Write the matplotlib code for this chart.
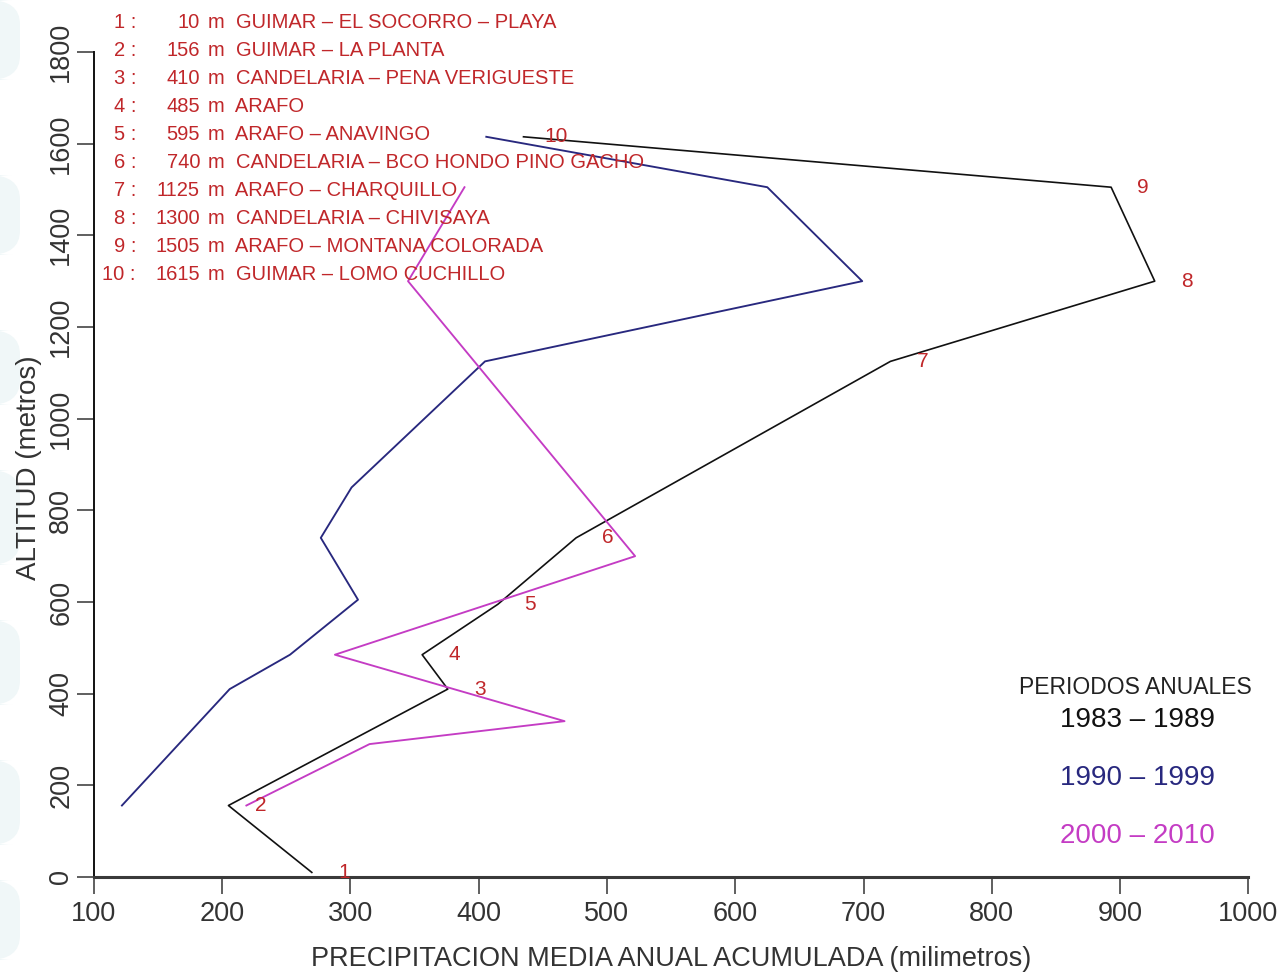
import matplotlib
matplotlib.use("Agg")
import matplotlib.pyplot as plt
from matplotlib.patches import FancyBboxPatch

plt.rcParams['font.family'] = ['Liberation Sans', 'DejaVu Sans']

# Stations (altitude in metres, name)
station_num = [1, 2, 3, 4, 5, 6, 7, 8, 9, 10]
station_alt = [10, 156, 410, 485, 595, 740, 1125, 1300, 1505, 1615]
station_name = [
    "GUIMAR – EL SOCORRO – PLAYA",
    "GUIMAR – LA PLANTA",
    "CANDELARIA – PENA VERIGUESTE",
    "ARAFO",
    "ARAFO – ANAVINGO",
    "CANDELARIA – BCO HONDO PINO GACHO",
    "ARAFO – CHARQUILLO",
    "CANDELARIA – CHIVISAYA",
    "ARAFO – MONTANA COLORADA",
    "GUIMAR – LOMO CUCHILLO",
]

# Mean annual accumulated precipitation (mm) per period
p1983_alt = [10, 156, 410, 485, 595, 740, 1125, 1300, 1505, 1615]
p1983_mm = [270, 205, 376, 356, 415, 476, 721, 927, 893, 435]

p1990_alt = [156, 410, 485, 605, 740, 850, 1125, 1300, 1505, 1615]
p1990_mm = [122, 206, 253, 306, 277, 301, 405, 699, 625, 406]

p2000_alt = [156, 290, 340, 485, 700, 1300, 1505]
p2000_mm = [219, 315, 467, 288, 522, 345, 389]

period_labels = ["1983 – 1989", "1990 – 1999", "2000 – 2010"]
period_colors = ["#111111", "#28287e", "#c43cc4"]
label_red = "#c0272a"

W, H = 1281, 974
fig = plt.figure(figsize=(W / 100, H / 100), dpi=100)
fig.patch.set_facecolor("white")

# faint watermark shapes along the left edge (kept behind everything)
for y0, h in [(0, 80), (175, 80), (330, 75), (470, 95), (620, 85), (760, 85), (880, 80)]:
    fig.patches.append(FancyBboxPatch((-20 / W, 1 - (y0 + h) / H), 40 / W, h / H,
                                      boxstyle="round,pad=0,rounding_size=0.025",
                                      transform=fig.transFigure, facecolor="#f0f7f8",
                                      edgecolor="none", zorder=-5))

left, right, bottom, top = 93.7, 1248.4, 877, 52
ax = fig.add_axes([left / W, 1 - bottom / H, (right - left) / W, (bottom - top) / H])
ax.patch.set_alpha(0)
ax.set_xlim(100, 1000)
ax.set_ylim(0, 1800)

ax.plot(p1983_mm, p1983_alt, color=period_colors[0], lw=1.2, zorder=3)
ax.plot(p1990_mm, p1990_alt, color=period_colors[1], lw=1.35, zorder=3)
ax.plot(p2000_mm, p2000_alt, color=period_colors[2], lw=1.35, zorder=3)

# station numbers beside the 1983-1989 profile
for n, a, v in zip(station_num, station_alt, p1983_mm):
    ax.text(v + 25, a, str(n), color=label_red, fontsize=15, ha="center", va="center", zorder=4)

ax.spines["top"].set_visible(False)
ax.spines["right"].set_visible(False)
ax.spines["bottom"].set_linewidth(2.2)
ax.spines["bottom"].set_color("#3a3a3a")
ax.spines["left"].set_linewidth(1.4)
ax.spines["left"].set_color("#111111")

ax.set_xticks(range(100, 1001, 100))
ax.set_yticks(range(0, 1801, 200))
ax.tick_params(axis="x", direction="out", length=12, width=1.2, pad=5,
               labelsize=19.5, color="#444444", labelcolor="#333333")
ax.tick_params(axis="y", direction="out", length=12, width=1.2, pad=2.0,
               labelsize=19.5, color="#444444", labelcolor="#333333", labelrotation=90)
for lab in ax.get_yticklabels():
    lab.set_va("center")

ax.set_xlabel("PRECIPITACION MEDIA ANUAL ACUMULADA (milimetros)", fontsize=19.5, color="#333333")
ax.xaxis.label.set_va("center")
ax.xaxis.set_label_coords(0.5, (bottom - 959) / (bottom - top))
ax.set_ylabel("ALTITUD (metros)", fontsize=20, color="#333333")
ax.yaxis.label.set_va("center")
ax.yaxis.set_label_coords((29 - left) / (right - left), (bottom - 468) / (bottom - top))

# station list in the upper left
for i, (n, a, name) in enumerate(zip(station_num, station_alt, station_name)):
    y = 1 - (22 + i * 28.1) / H
    fig.text(136 / W, y, f"{n} :", color=label_red, fontsize=14.5, ha="right", va="center")
    fig.text(200 / W, y, f"{a}", color=label_red, fontsize=14.5, ha="right", va="center")
    fig.text(208 / W, y, f"m  {name}", color=label_red, fontsize=14.5, ha="left", va="center")

# period key
fig.text(1135 / W, 1 - 688 / H, "PERIODOS ANUALES", color="#222222", fontsize=16.5,
         ha="center", va="center")
for lbl, col, yp in zip(period_labels, period_colors, [720, 778, 836]):
    fig.text(1137 / W, 1 - yp / H, lbl, color=col, fontsize=20, ha="center", va="center")

fig.savefig("out.png", dpi=100)
